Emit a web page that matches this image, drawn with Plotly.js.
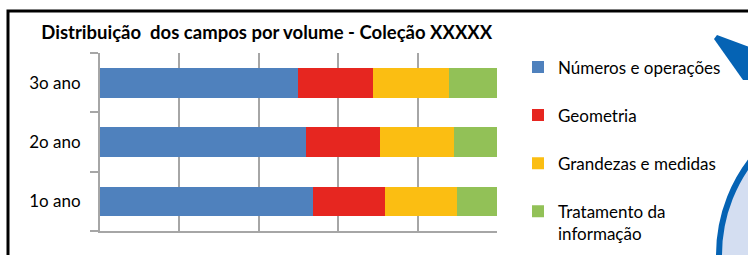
<!DOCTYPE html>
<html>
<head>
<meta charset="utf-8">
<script src="https://cdn.plot.ly/plotly-3.0.1.min.js"></script>
<style>html,body{margin:0;padding:0;background:#fff;}#chart{width:748px;height:255px;}</style>
</head>
<body>
<div id="chart"></div>
<script>
const categories = ['1o ano', '2o ano', '3o ano'];
const seriesNames = ['Números e operações', 'Geometria', 'Grandezas e medidas', 'Tratamento da<br>informação'];
const numeros = [53.7, 52.0, 49.8];
const geometria = [18.1, 18.5, 19.0];
const grandezas = [18.2, 18.6, 19.2];
const tratamento = [10.0, 10.9, 12.0];
const colors = ['#4F81BD', '#E62620', '#FBBE12', '#92C157'];
const titleText = 'Distribuição  dos campos por volume - Coleção XXXXX';

const seriesValues = [numeros, geometria, grandezas, tratamento];
const FONT = 'Lato, Carlito, Calibri, sans-serif';
const GRAY = '#A6A6A6';

const data = seriesValues.map((vals, i) => ({
  type: 'bar',
  orientation: 'h',
  name: seriesNames[i],
  x: vals,
  y: categories,
  width: 0.5,
  legendgroup: 'g' + i,
  marker: {color: colors[i], line: {width: 0}},
  hoverinfo: 'x+name'
}));

const layout = {
  width: 748,
  height: 255,
  paper_bgcolor: '#ffffff',
  plot_bgcolor: '#ffffff',
  barmode: 'stack',
  bargap: 0.5,
  margin: {l: 100, r: 251, t: 53, b: 24, pad: 0},
  title: {
    text: '<b>' + titleText + '</b>',
    font: {family: FONT, size: 18.5, color: '#000'},
    xref: 'paper', x: 0.42, xanchor: 'center',
    yref: 'container', y: 1 - 33 / 255, yanchor: 'middle'
  },
  xaxis: {
    range: [0, 100],
    dtick: 20,
    showticklabels: false,
    ticks: '',
    showgrid: true,
    gridcolor: GRAY,
    gridwidth: 2,
    zeroline: false,
    showline: true,
    linecolor: GRAY,
    linewidth: 2,
    fixedrange: true
  },
  yaxis: {
    type: 'category',
    tickson: 'boundaries',
    ticks: 'outside',
    ticklen: 8,
    tickwidth: 2,
    tickcolor: GRAY,
    ticklabelstandoff: 14,
    showgrid: false,
    zeroline: false,
    showline: true,
    linecolor: GRAY,
    linewidth: 2,
    tickfont: {family: FONT, size: 17, color: '#000'},
    fixedrange: true
  },
  showlegend: true,
  legend: {
    x: (518 - 100) / 397,
    xanchor: 'left',
    y: 1.02,
    yanchor: 'top',
    traceorder: 'grouped',
    tracegroupgap: 23,
    valign: 'top',
    maxheight: 400,
    font: {family: FONT, size: 17, color: '#000'},
    bgcolor: 'rgba(0,0,0,0)',
    borderwidth: 0
  },
  shapes: [
    // outer black frame of the chart
    {type: 'rect', xref: 'paper', yref: 'paper', xsizemode: 'pixel', ysizemode: 'pixel',
     xanchor: 0, yanchor: 0, x0: -92, x1: 700, y0: -40, y1: 220,
     line: {color: '#000', width: 3}, fillcolor: 'rgba(0,0,0,0)', layer: 'below'},
    // blue wedge at top right (decoration from the page)
    {type: 'path', xref: 'paper', yref: 'paper', xsizemode: 'pixel', ysizemode: 'pixel',
     xanchor: 0, yanchor: 0,
     path: 'M617,196 L660,180 L660,151 L643,151 L614,192 Z',
     fillcolor: '#0563B4', line: {width: 0}, layer: 'above'},
    // large circle at right (decoration from the page)
    {type: 'circle', xref: 'paper', yref: 'paper', xsizemode: 'pixel', ysizemode: 'pixel',
     xanchor: 0, yanchor: 0, x0: 619, x1: 929, y0: 131, y1: -179,
     fillcolor: '#D4DEF1', line: {color: '#0563B4', width: 6}, layer: 'above'}
  ]
};

Plotly.newPlot('chart', data, layout, {displayModeBar: false, staticPlot: true});
</script>
</body>
</html>
